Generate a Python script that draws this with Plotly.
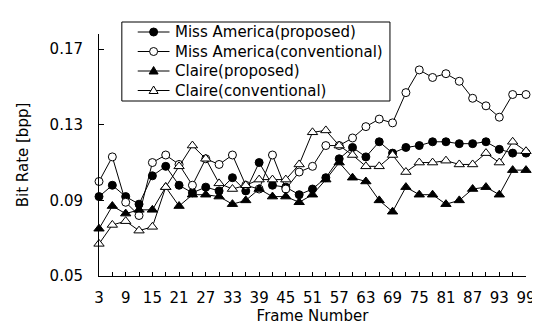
import plotly.graph_objects as go

frames = [3, 6, 9, 12, 15, 18, 21, 24, 27, 30, 33, 36, 39, 42, 45, 48, 51,
          54, 57, 60, 63, 66, 69, 72, 75, 78, 81, 84, 87, 90, 93, 96, 99]

ma_proposed = [0.092, 0.098, 0.092, 0.088, 0.103, 0.108, 0.098, 0.094, 0.097, 0.095, 0.102,
               0.095, 0.110, 0.098, 0.097, 0.093, 0.096, 0.102, 0.112, 0.118, 0.113, 0.121,
               0.115, 0.118, 0.119, 0.121, 0.121, 0.120, 0.120, 0.121, 0.117, 0.115, 0.115]

ma_conventional = [0.100, 0.113, 0.089, 0.082, 0.110, 0.114, 0.109, 0.098, 0.112, 0.109, 0.114,
                   0.098, 0.096, 0.114, 0.096, 0.105, 0.108, 0.119, 0.119, 0.123, 0.129, 0.133,
                   0.131, 0.147, 0.159, 0.155, 0.157, 0.153, 0.144, 0.140, 0.134, 0.146, 0.146]

claire_proposed = [0.075, 0.087, 0.083, 0.085, 0.085, 0.097, 0.087, 0.093, 0.093, 0.092, 0.088,
                   0.090, 0.096, 0.092, 0.092, 0.089, 0.093, 0.101, 0.110, 0.102, 0.100, 0.090,
                   0.084, 0.097, 0.093, 0.093, 0.088, 0.090, 0.096, 0.097, 0.093, 0.106, 0.106]

claire_conventional = [0.067, 0.077, 0.079, 0.074, 0.076, 0.097, 0.108, 0.119, 0.112, 0.099, 0.096,
                       0.098, 0.101, 0.101, 0.101, 0.109, 0.126, 0.127, 0.119, 0.114, 0.108, 0.108,
                       0.114, 0.105, 0.110, 0.110, 0.111, 0.109, 0.109, 0.115, 0.110, 0.121, 0.116]

x_tick_vals = [3, 9, 15, 21, 27, 33, 39, 45, 51, 57, 63, 69, 75, 81, 87, 93, 99]
y_tick_vals = [0.05, 0.09, 0.13, 0.17]

series_names = ["Miss America(proposed)", "Miss America(conventional)",
                "Claire(proposed)", "Claire(conventional)"]
series_values = [ma_proposed, ma_conventional, claire_proposed, claire_conventional]
series_symbols = ["circle", "circle", "triangle-up", "triangle-up"]
series_fills = ["black", "white", "black", "white"]
marker_sizes = [8, 8, 9, 9]

FONT = "DejaVu Sans"
W, H = 540, 327
ML, MR, MT, MB = 91, 19, 26, 59
PW, PH = W - ML - MR, H - MT - MB


def fx(px):
    return (px - ML) / PW


def fy(py):
    return (H - MB - py) / PH


fig = go.Figure()
for name, vals, sym, fill, sz in zip(series_names, series_values, series_symbols,
                                     series_fills, marker_sizes):
    fig.add_trace(go.Scatter(
        x=frames, y=vals, name=name, mode="lines+markers",
        line=dict(color="black", width=1),
        marker=dict(symbol=sym, size=sz, color=fill, line=dict(color="black", width=1)),
        cliponaxis=False, showlegend=False,
    ))

# hand-built legend box (tight row spacing like the original)
box_l, box_r, box_t, box_b = 114, 384, 14, 93
row0, row_step = 24, 19.5
shapes = [dict(type="rect", xref="paper", yref="paper",
               x0=fx(box_l), x1=fx(box_r), y0=fy(box_b), y1=fy(box_t),
               line=dict(color="black", width=1), fillcolor="white", layer="above")]
annotations = []
for i, (name, sym, fill) in enumerate(zip(series_names, series_symbols, series_fills)):
    cy = row0 + row_step * i
    shapes.append(dict(type="line", xref="paper", yref="paper",
                       x0=fx(130), x1=fx(162), y0=fy(cy), y1=fy(cy),
                       line=dict(color="black", width=1), layer="above"))
    if sym == "circle":
        shapes.append(dict(type="circle", xref="paper", yref="paper",
                           xsizemode="pixel", ysizemode="pixel",
                           xanchor=fx(146), yanchor=fy(cy),
                           x0=-4, x1=4, y0=-4, y1=4,
                           line=dict(color="black", width=1), fillcolor=fill, layer="above"))
    else:
        shapes.append(dict(type="path", xref="paper", yref="paper",
                           xsizemode="pixel", ysizemode="pixel",
                           xanchor=fx(146), yanchor=fy(cy),
                           path="M -4.5,-3 L 4.5,-3 L 0,4.5 Z",
                           line=dict(color="black", width=1), fillcolor=fill, layer="above"))
    annotations.append(dict(text=name, xref="paper", yref="paper",
                            x=fx(166), y=fy(cy), xanchor="left", yanchor="middle",
                            showarrow=False,
                            font=dict(family=FONT, size=15, color="black")))

fig.update_layout(
    width=W, height=H,
    margin=dict(l=ML, r=MR, t=MT, b=MB),
    paper_bgcolor="white", plot_bgcolor="white",
    font=dict(family=FONT, size=15, color="black"),
    showlegend=False,
    shapes=shapes, annotations=annotations,
)
fig.update_xaxes(
    range=[3, 99], tickvals=x_tick_vals, ticks="inside", ticklen=4, tickcolor="black",
    minor=dict(ticks="inside", tickvals=frames, ticklen=4, tickcolor="black"),
    showline=True, linecolor="black", linewidth=1, showgrid=False, zeroline=False,
    ticklabelstandoff=8,
    title=dict(text="Frame Number", standoff=0, font=dict(family=FONT, size=15)),
)
fig.update_yaxes(
    range=[0.05, 0.178], tickvals=y_tick_vals, tickformat=".2f", ticks="inside",
    ticklen=5, tickcolor="black",
    showline=True, linecolor="black", linewidth=1, showgrid=False, zeroline=False,
    ticklabelstandoff=12,
    title=dict(text="Bit Rate [bpp]", standoff=17, font=dict(family=FONT, size=15)),
)

fig.write_html("out.html")
